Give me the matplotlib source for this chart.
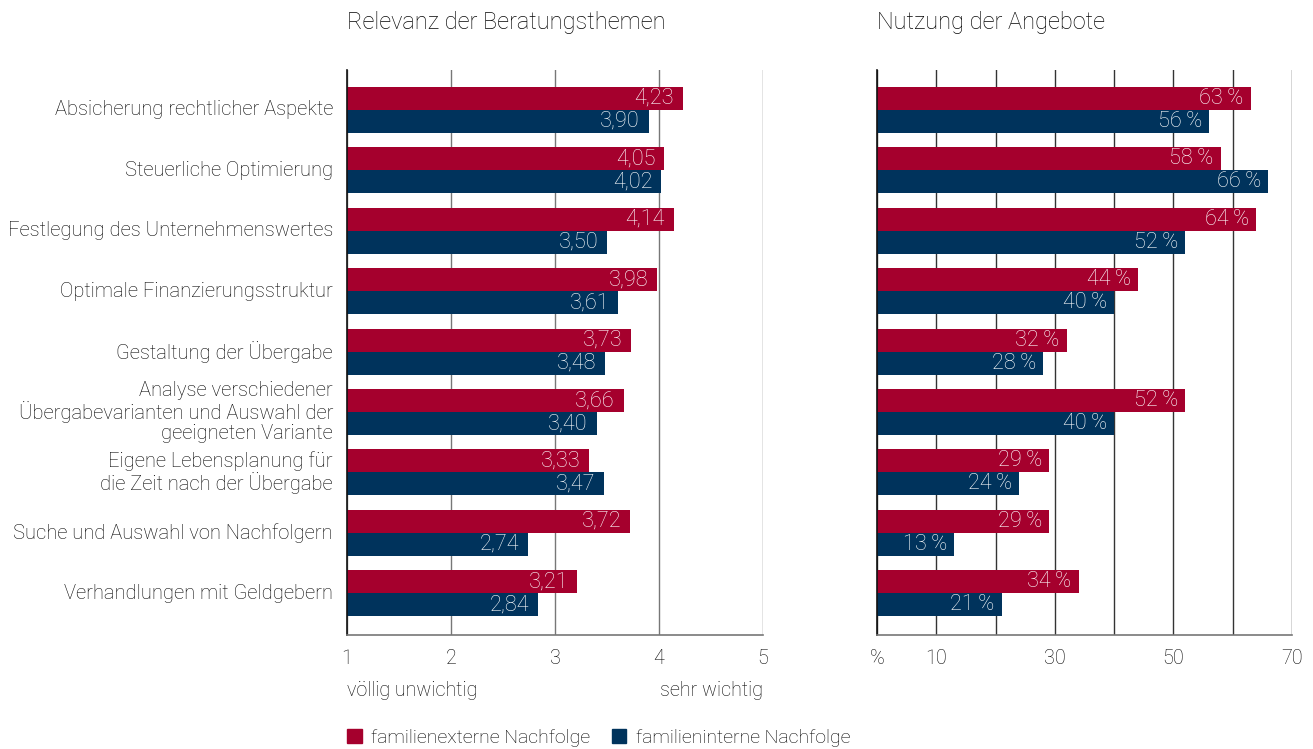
import matplotlib
matplotlib.use("Agg")
import matplotlib.pyplot as plt
from matplotlib.patches import Patch

categories = [
    "Absicherung rechtlicher Aspekte",
    "Steuerliche Optimierung",
    "Festlegung des Unternehmenswertes",
    "Optimale Finanzierungsstruktur",
    "Gestaltung der Übergabe",
    "Analyse verschiedener\nÜbergabevarianten und Auswahl der\ngeeigneten Variante",
    "Eigene Lebensplanung für\ndie Zeit nach der Übergabe",
    "Suche und Auswahl von Nachfolgern",
    "Verhandlungen mit Geldgebern",
]
relevanz_extern = [4.23, 4.05, 4.14, 3.98, 3.73, 3.66, 3.33, 3.72, 3.21]
relevanz_intern = [3.90, 4.02, 3.50, 3.61, 3.48, 3.40, 3.47, 2.74, 2.84]
nutzung_extern = [63, 58, 64, 44, 32, 52, 29, 29, 34]
nutzung_intern = [56, 66, 52, 40, 28, 40, 24, 13, 21]
left_ticks = [1, 2, 3, 4, 5]
left_ticklabels = ["1", "2", "3", "4", "5"]
right_grid = [0, 10, 20, 30, 40, 50, 60, 70]
right_ticks = [0, 10, 30, 50, 70]
right_ticklabels = ["%", "10", "30", "50", "70"]
series_names = ["familienexterne Nachfolge", "familieninterne Nachfolge"]

RED = "#A5002D"
BLUE = "#00335C"
TXT = "#050505"
FONT = ["Roboto", "DejaVu Sans"]
plt.rcParams["font.family"] = FONT
plt.rcParams["font.weight"] = "light"

W, H = 1313, 749
fig = plt.figure(figsize=(W / 100, H / 100), dpi=100)

def fx(px):
    return px / W

def fy(py):
    return 1 - py / H

bottom = fy(635)
height = (635 - 70) / H
axL = fig.add_axes([fx(347), bottom, (763 - 347) / W, height])
axR = fig.add_axes([fx(877), bottom, (1292 - 877) / W, height])

n = len(categories)
ypos = list(range(n))
bh = 0.38
cat_fs = 14.5
val_fs = 15.6
tick_fs = 14.2

def style(ax, xmin, xmax, grid, gridcolor):
    ax.set_xlim(xmin, xmax)
    ax.set_ylim(n - 1 + 0.69, -0.66)
    for x in grid:
        ax.axvline(x, color=gridcolor, lw=1.0, zorder=0)
    for s in ["top", "right"]:
        ax.spines[s].set_visible(False)
    ax.spines["left"].set_color("#111111")
    ax.spines["left"].set_linewidth(1.2)
    ax.spines["bottom"].set_color("#777777")
    ax.spines["bottom"].set_linewidth(1.2)
    ax.set_yticks([])
    ax.tick_params(axis="x", length=0, pad=10, labelsize=tick_fs, colors=TXT)
    ax.set_xticks([xmin, xmax], minor=True)
    ax.tick_params(axis="x", which="minor", length=7, width=1.2, color="#444444")

style(axL, 1, 5, left_ticks, "#777777")
style(axR, 0, 70, right_grid, "#333333")

axL.set_xticks(left_ticks)
axL.set_xticklabels(left_ticklabels)
axR.set_xticks(right_ticks)
axR.set_xticklabels(right_ticklabels)

y_ext = [y - bh / 2 for y in ypos]
y_int = [y + bh / 2 for y in ypos]

axL.barh(y_ext, [v - 1 for v in relevanz_extern], left=1, height=bh, color=RED, zorder=2)
axL.barh(y_int, [v - 1 for v in relevanz_intern], left=1, height=bh, color=BLUE, zorder=2)
axR.barh(y_ext, nutzung_extern, height=bh, color=RED, zorder=2)
axR.barh(y_int, nutzung_intern, height=bh, color=BLUE, zorder=2)

for ys, vals in ((y_ext, relevanz_extern), (y_int, relevanz_intern)):
    for y, v in zip(ys, vals):
        axL.text(v - 0.085, y, f"{v:.2f}".replace(".", ","), color="white", ha="right", va="center",
                 fontsize=val_fs, zorder=3)
for ys, vals in ((y_ext, nutzung_extern), (y_int, nutzung_intern)):
    for y, v in zip(ys, vals):
        axR.text(v - 1.2, y, f"{v}\u2009%", color="white", ha="right", va="center",
                 fontsize=val_fs, zorder=3)

# category labels
for y, c in zip(ypos, categories):
    axL.text(1 - 0.135, y, c, ha="right", va="center", fontsize=cat_fs,
             color=TXT, linespacing=1.08, clip_on=False)

fig.text(fx(347), fy(23), "Relevanz der Beratungsthemen", ha="left", va="center", fontsize=17, color=TXT)
fig.text(fx(877), fy(23), "Nutzung der Angebote", ha="left", va="center", fontsize=17, color=TXT)
fig.text(fx(347), fy(690), "völlig unwichtig", ha="left", va="center", fontsize=tick_fs, color=TXT)
fig.text(fx(763), fy(690), "sehr wichtig", ha="right", va="center", fontsize=tick_fs, color=TXT)

handles = [Patch(color=RED), Patch(color=BLUE)]
fig.legend(handles, series_names, loc="center left", bbox_to_anchor=(fx(347), fy(738)), ncol=2,
           frameon=False, fontsize=14.0, handlelength=0.75, handleheight=0.75, handletextpad=0.5,
           columnspacing=1.1, borderpad=0, borderaxespad=0)

fig.savefig("out.png", dpi=100)
